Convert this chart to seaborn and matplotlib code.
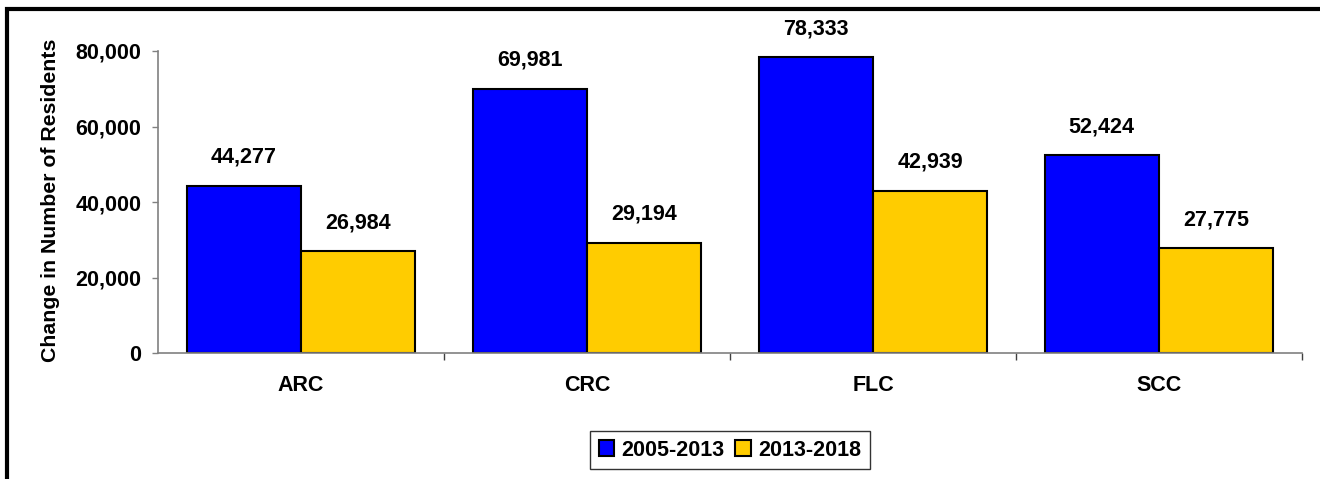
import pandas as pd
import matplotlib
matplotlib.use("Agg")
import matplotlib.pyplot as plt
import seaborn as sns
from matplotlib.patches import Rectangle
from matplotlib.ticker import FuncFormatter

regions = ["ARC", "CRC", "FLC", "SCC"]
periods = ["2005-2013", "2013-2018"]
change_2005_2013 = [44277, 69981, 78333, 52424]
change_2013_2018 = [26984, 29194, 42939, 27775]
bar_colors = ["#0000FF", "#FFCC00"]

df = pd.DataFrame({
    "region": regions * 2,
    "period": [periods[0]] * 4 + [periods[1]] * 4,
    "change": change_2005_2013 + change_2013_2018,
})

sns.set_style("white")
plt.rcParams["font.family"] = ["Liberation Sans", "DejaVu Sans"]
plt.rcParams["font.weight"] = "bold"
# seaborn's style uses dark grey text; the original is pure black
plt.rcParams["text.color"] = "black"
plt.rcParams["xtick.labelcolor"] = "black"
plt.rcParams["ytick.labelcolor"] = "black"
fs = 15.5

fig = plt.figure(figsize=(13.2, 4.79), dpi=100)
ax = fig.add_axes([158 / 1320, 1 - 353 / 479, (1302 - 158) / 1320, (353 - 51) / 479])

sns.barplot(data=df, x="region", y="change", hue="period", palette=bar_colors,
            edgecolor="black", linewidth=1.5, width=0.8, saturation=1, ax=ax)

for cont in ax.containers:
    ax.bar_label(cont, labels=[f"{v:,.0f}" for v in cont.datavalues],
                 padding=13, fontsize=fs, fontweight="bold", color="black")

ax.set_ylim(0, 80000)
ax.set_xlim(-0.5, 3.5)
ax.set_yticks([0, 20000, 40000, 60000, 80000])
ax.yaxis.set_major_formatter(FuncFormatter(lambda v, p: f"{v:,.0f}"))
ax.tick_params(axis="y", length=4, width=1, color="#808080", direction="out",
               left=True, pad=8, labelsize=fs, labelcolor="black")
ax.set_xticks([0.5, 1.5, 2.5, 3.5], minor=True)
ax.tick_params(axis="x", which="major", length=0, pad=16, labelsize=fs, labelcolor="black")
ax.tick_params(axis="x", which="minor", length=5, width=1, color="#404040",
               direction="out", bottom=True)
for lab in ax.get_xticklabels() + ax.get_yticklabels():
    lab.set_fontweight("bold")

for s in ["top", "right"]:
    ax.spines[s].set_visible(False)
for s in ["left", "bottom"]:
    ax.spines[s].set_color("#808080")
    ax.spines[s].set_linewidth(1.2)

ax.set_xlabel("")
ax.set_ylabel("")
fig.text(51 / 1320, 1 - 200 / 479, "Change in Number of Residents", rotation=90,
         ha="center", va="center", fontsize=15.3, fontweight="bold", color="black")

handles, labels = ax.get_legend_handles_labels()
ax.legend_.remove()
leg = fig.legend(handles, labels, loc="center", bbox_to_anchor=(730 / 1320, 1 - 450 / 479),
                 ncol=2, frameon=True, fancybox=False, edgecolor="black",
                 prop={"weight": "bold", "size": fs}, labelcolor="black",
                 handlelength=0.7, handleheight=0.7, handletextpad=0.35,
                 columnspacing=0.5, borderpad=0.4, borderaxespad=0)
leg.get_frame().set_linewidth(1)

fig.patches.append(Rectangle((7 / 1320, -0.2), 1.5, 1.2 - 9 / 479, transform=fig.transFigure,
                             fill=False, edgecolor="black", linewidth=3))

fig.savefig("out.png", dpi=100)
